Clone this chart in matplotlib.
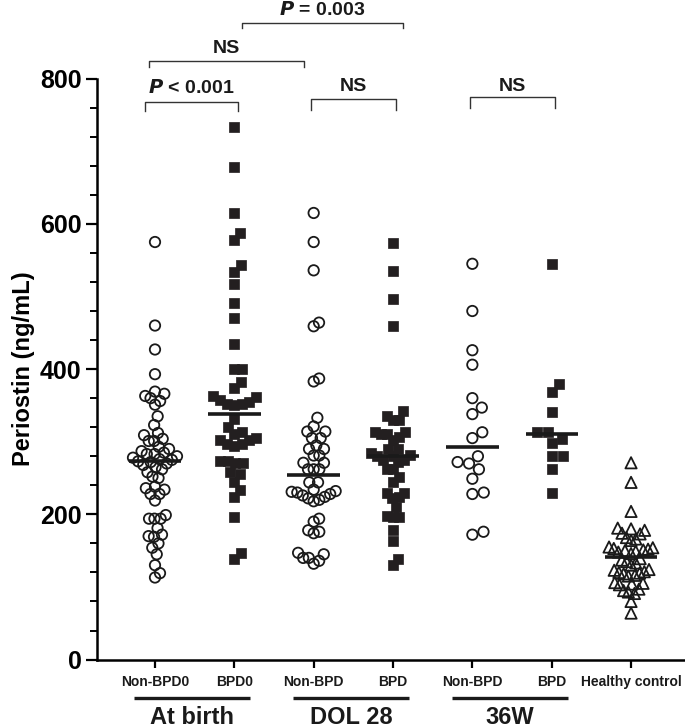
"""Periostin levels by group: beeswarm dot plot with mean lines."""

import matplotlib

matplotlib.use("Agg")
import matplotlib.pyplot as plt
import numpy as np
from matplotlib.ticker import MultipleLocator

plt.rcParams["font.family"] = ["Liberation Sans", "DejaVu Sans"]

categories = ["Non-BPD0", "BPD0", "Non-BPD", "BPD", "Non-BPD", "BPD", "Healthy control"]
periods = ["At birth", "DOL 28", "36W"]

non_bpd0 = [575, 460, 427, 393, 369, 366, 363, 360, 356, 351, 335, 323, 312, 309, 304,
            301, 301, 293, 290, 287, 285, 283, 283, 280, 278, 276, 275, 273, 272, 270,
            268, 265, 262, 258, 252, 250, 238, 236, 234, 228, 228, 219, 199, 194, 194,
            194, 181, 172, 170, 169, 160, 154, 145, 130, 119, 113]
bpd0 = [733, 678, 615, 588, 578, 543, 534, 517, 491, 470, 434, 400, 400, 382, 374,
        363, 362, 358, 355, 352, 352, 350, 331, 320, 313, 311, 305, 302, 302, 297,
        297, 294, 273, 273, 270, 270, 258, 255, 245, 234, 224, 197, 147, 138]
non_bpd_dol28 = [615, 575, 536, 464, 459, 387, 383, 333, 321, 314, 314, 305, 305, 295,
                 290, 290, 281, 281, 271, 271, 262, 262, 262, 244, 244, 234, 232, 231,
                 230, 228, 226, 224, 222, 220, 218, 194, 190, 178, 176, 174, 147, 145,
                 140, 140, 136, 132]
bpd_dol28 = [574, 535, 497, 459, 342, 336, 330, 330, 314, 313, 311, 310, 307, 303, 290,
             290, 284, 282, 280, 280, 275, 275, 272, 263, 263, 251, 245, 230, 230, 224,
             222, 210, 198, 196, 196, 179, 163, 138, 130]
non_bpd_36w = [545, 480, 426, 406, 360, 347, 338, 313, 305, 280, 272, 270, 262, 249,
               230, 228, 176, 172]
bpd_36w = [545, 380, 368, 341, 313, 313, 304, 298, 281, 280, 262, 230]
healthy = [271, 244, 204, 181, 180, 178, 174, 173, 168, 166, 164, 155, 154, 153, 152,
           151, 150, 149, 148, 146, 139, 137, 135, 133, 130, 124, 123, 121, 120, 119,
           118, 116, 115, 106, 105, 104, 103, 97, 95, 93, 91, 80, 64]
center_lines = [274, 338, 254, 281, 293, 311, 141]

series = [non_bpd0, bpd0, non_bpd_dol28, bpd_dol28, non_bpd_36w, bpd_36w, healthy]
styles = [
    dict(marker="o", s=56, facecolors="none", edgecolors="#1a1a1a", linewidths=1.3),
    dict(marker="s", s=50, facecolors="#231f20", edgecolors="#231f20", linewidths=0.5),
    dict(marker="o", s=56, facecolors="none", edgecolors="#1a1a1a", linewidths=1.3),
    dict(marker="s", s=50, facecolors="#231f20", edgecolors="#231f20", linewidths=0.5),
    dict(marker="o", s=56, facecolors="none", edgecolors="#1a1a1a", linewidths=1.3),
    dict(marker="s", s=50, facecolors="#231f20", edgecolors="#231f20", linewidths=0.5),
    dict(marker="^", s=66, facecolors="none", edgecolors="#1a1a1a", linewidths=1.3),
]


def swarm_x(ax, pos, values, d=11.5, max_half=22.0):
    """Beeswarm offsets computed in display pixels, returned in data coords."""
    trans = ax.transData
    vals = np.sort(np.asarray(values, dtype=float))
    pts = trans.transform(np.column_stack([np.full(len(vals), pos), vals]))
    x0, ys = pts[0, 0], pts[:, 1]
    placed = []
    for y in ys:
        cands = [0.0]
        for xp, yp in placed:
            dy = abs(y - yp)
            if dy < d:
                dx = np.sqrt(d * d - dy * dy)
                cands += [xp + dx, xp - dx]
        cands.sort(key=lambda c: (abs(round(c, 6)), -c))
        for c in cands:
            if all((c - xp) ** 2 + (y - yp) ** 2 >= d * d - 1e-6 for xp, yp in placed):
                break
        placed.append((c, y))
    offs = np.array([p[0] for p in placed])
    m = np.abs(offs).max() if len(offs) else 0
    if m > max_half:
        offs *= max_half / m
    xd = trans.inverted().transform(np.column_stack([x0 + offs, ys]))[:, 0]
    return xd, vals


fig = plt.figure(figsize=(6.85, 7.28), dpi=100)
ax = fig.add_axes([0.1416, 0.094, 0.8584, 0.798])
ax.set_xlim(0.269, 7.68)
ax.set_ylim(0, 800)

positions = np.arange(1, len(categories) + 1)
for pos, vals, st in zip(positions, series, styles):
    xs, ys = swarm_x(ax, pos, vals)
    ax.scatter(xs, ys, clip_on=False, zorder=3, **st)
for pos, c in zip(positions, center_lines):
    ax.plot([pos - 0.33, pos + 0.33], [c, c], color="#1a1a1a", lw=2.6, zorder=4,
            solid_capstyle="butt")

for side in ["top", "right"]:
    ax.spines[side].set_visible(False)
ax.spines["left"].set_linewidth(1.8)
ax.spines["bottom"].set_linewidth(1.8)
ax.spines["left"].set_bounds(0, 800)

ax.yaxis.set_major_locator(MultipleLocator(200))
ax.yaxis.set_minor_locator(MultipleLocator(40))
ax.tick_params(axis="y", which="major", length=8, width=1.6, pad=3, labelsize=18)
ax.tick_params(axis="y", which="minor", length=5, width=1.4)
for lab in ax.get_yticklabels():
    lab.set_fontweight("bold")
ax.set_ylabel("Periostin (ng/mL)", fontsize=17, fontweight="bold", labelpad=4)

ax.set_xticks(positions)
ax.set_xticklabels([])
ax.tick_params(axis="x", length=6, width=1.6)

xt = ax.get_xaxis_transform()
for pos, name in zip(positions, categories):
    ax.text(pos, -0.038, name, transform=xt, ha="center", va="center",
            fontsize=10, fontweight="bold", color="#1a1a1a")
for k, name in enumerate(periods):
    mid = 1.47 + 2 * k
    ax.plot([mid - 0.73, mid + 0.73], [-0.066, -0.066], transform=xt, color="#1a1a1a",
            lw=2.4, clip_on=False, solid_capstyle="butt")
    ax.text(mid, -0.1, name, transform=xt, ha="center", va="center",
            fontsize=17, fontweight="bold", color="#1a1a1a")

# significance brackets: (x0, x1, top, leg bottom, text y, label)
brackets = [
    (0.874, 2.046, 768, 755, 787, r"$\bfit{P}$ < 0.001"),
    (0.924, 2.878, 824, 816, 842, "NS"),
    (2.097, 4.126, 877, 870, 894, r"$\bfit{P}$ = 0.003"),
    (2.966, 4.038, 772, 757, 789, "NS"),
    (4.971, 6.042, 775, 760, 789, "NS"),
]
for x0, x1, top, leg, ty, label in brackets:
    ax.plot([x0, x0, x1, x1], [leg, top, top, leg], color="#333333", lw=1.0,
            clip_on=False)
    ax.text((x0 + x1) / 2, ty, label, ha="center", va="center", fontsize=14,
            fontweight="bold", color="#1a1a1a", clip_on=False)

fig.savefig("out.png", dpi=100)
plt.close(fig)
